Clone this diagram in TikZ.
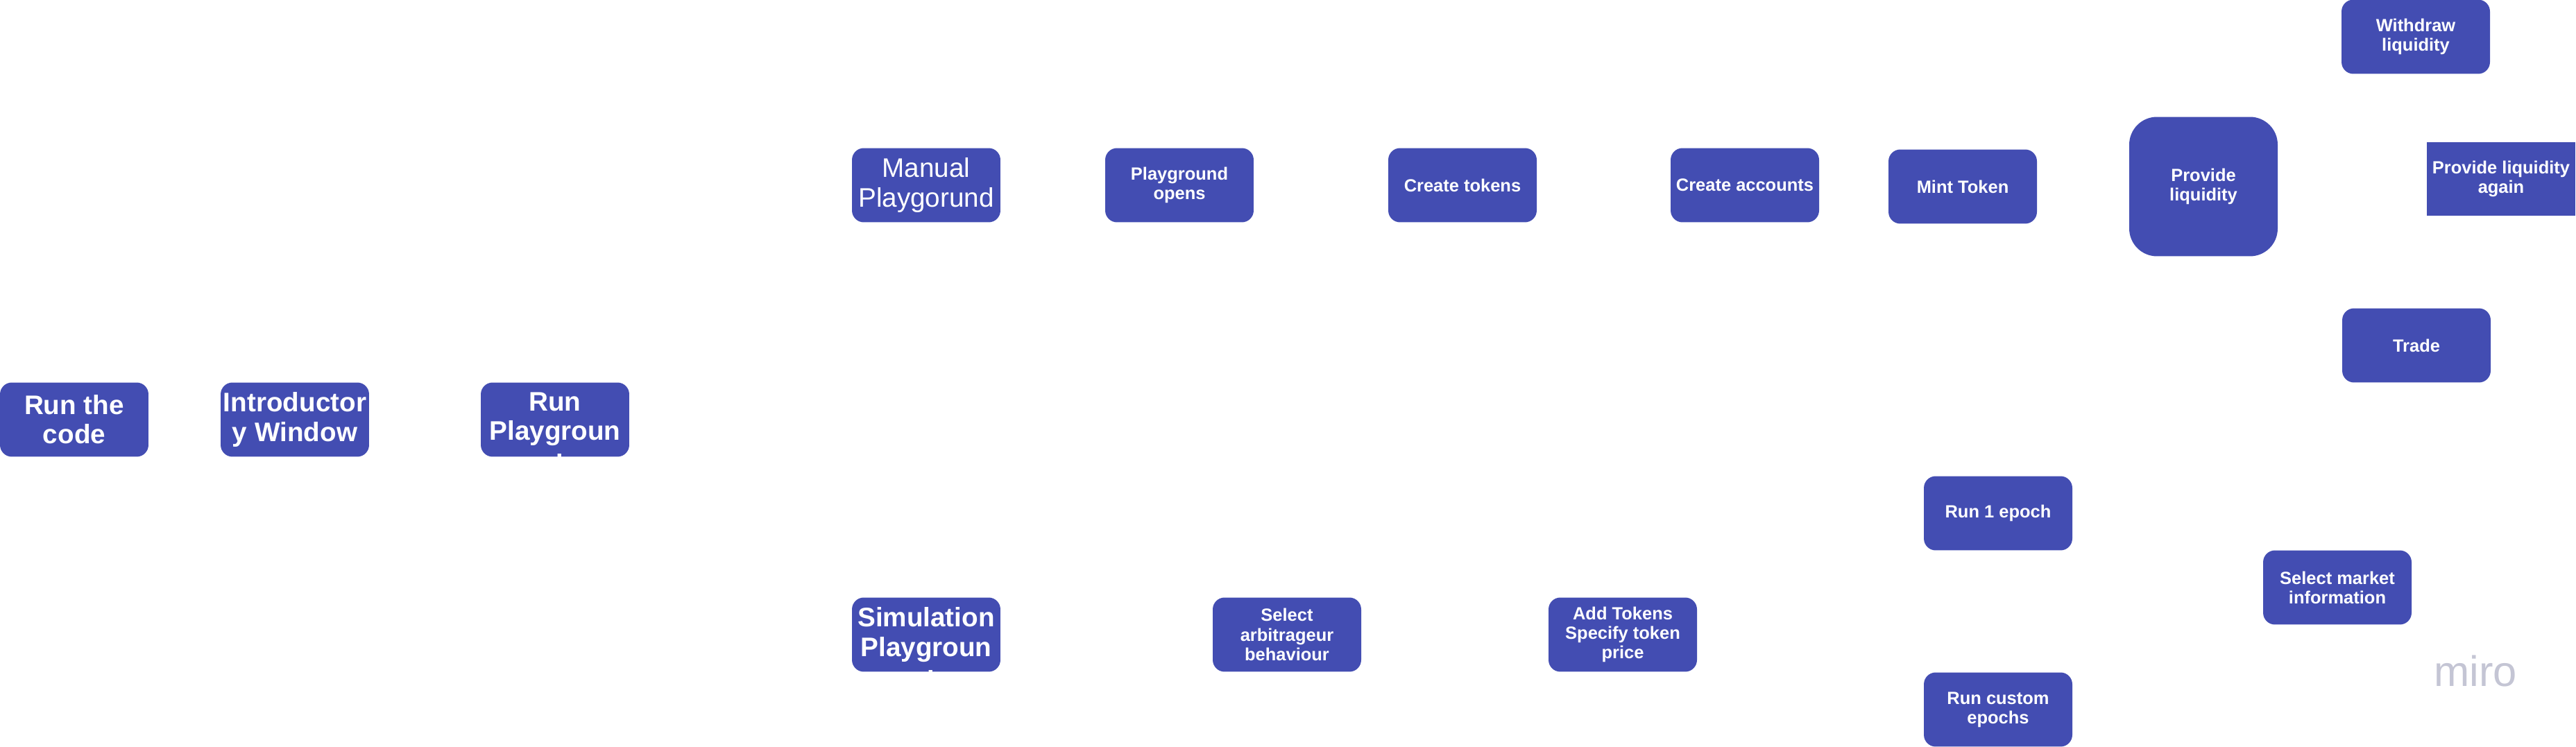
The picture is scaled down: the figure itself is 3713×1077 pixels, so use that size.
\documentclass[tikz,border=0pt]{standalone}
\usepackage{fontspec}
\setmainfont{Liberation Sans}
\usepackage{tikz}
\usetikzlibrary{positioning}
\definecolor{miroblue}{RGB}{67,77,178}
\definecolor{mirogrey}{RGB}{196,197,212}

\begin{document}
\begin{tikzpicture}[x=0.02cm,y=-0.02cm,
    flow node/.style={rectangle, rounded corners=0.34cm, fill=miroblue, text=white, minimum width=4.28cm, minimum height=2.14cm, inner sep=0pt, align=center, font=\fontsize{14.5}{16}\selectfont\bfseries},
    big node/.style={flow node, font=\fontsize{22}{24}\selectfont\bfseries},
    cut node/.style={flow node, path picture={\node[text=white, inner sep=0pt, align=center, anchor=north, font=\fontsize{22}{24.2}\selectfont\bfseries] at ([yshift=-0.28cm]path picture bounding box.north) {#1};}}]
    \useasboundingbox (0,0) rectangle (3713,1077);
    % start
    \node[big node] (run) at (107,605) {Run the\\code};
    \node[big node] (intro) at (425,605) {Introductor\\y Window};
    \node[cut node={Run\\Playgroun\\[3pt]d}] (runpg) at (800,605) {};
    % manual playground
    \node[flow node, font=\fontsize{22}{24}\selectfont] (manual) at (1335,267) {Manual\\Playgorund};
    \node[flow node] (opens) at (1700,267) {Playground\\opens};
    \node[flow node] (tokens) at (2108,267) {Create tokens};
    \node[flow node] (accounts) at (2515,267) {Create accounts};
    \node[flow node] (mint) at (2829,269) {Mint Token};
    \node[flow node, rounded corners=0.8cm, minimum height=4.02cm] (provide) at (3176,269) {Provide\\liquidity};
    \node[flow node] (withdraw) at (3482,53) {Withdraw\\liquidity};
    \node[flow node, sharp corners] (again) at (3605,258) {Provide liquidity\\again};
    \node[flow node] (trade) at (3483,498) {Trade};
    % simulation playground
    \node[cut node={Simulation\\Playgroun\\[3pt]d}] (simpg) at (1335,915) {};
    \node[flow node] (arb) at (1855,915) {Select\\arbitrageur\\behaviour};
    \node[flow node] (addtok) at (2339,915) {Add Tokens\\Specify token\\price};
    \node[flow node] (epoch) at (2880,740) {Run 1 epoch};
    \node[flow node] (market) at (3369,847) {Select market\\information};
    \node[flow node] (custom) at (2880,1023) {Run custom\\epochs};
    \node[text=mirogrey, inner sep=0pt, font=\fontsize{35}{40}\selectfont] (logo) at (3568,968) {miro};
\end{tikzpicture}
\end{document}
